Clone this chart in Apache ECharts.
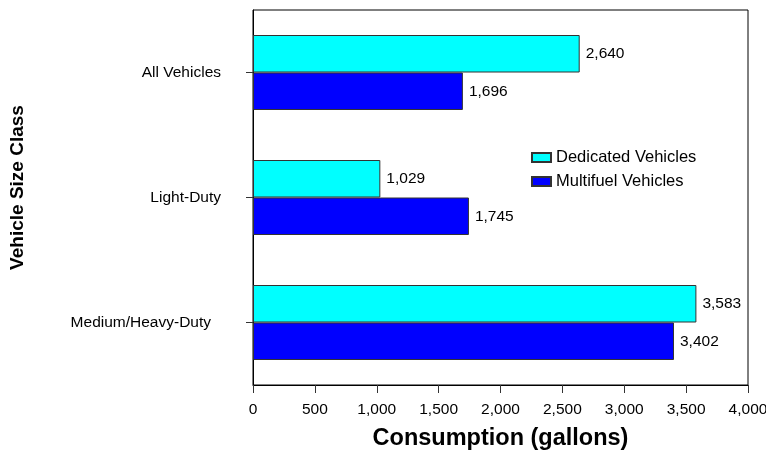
<!DOCTYPE html>
<html><head><meta charset="utf-8">
<script src="https://cdn.jsdelivr.net/npm/echarts@6/dist/echarts.min.js"></script>
<style>html,body{margin:0;padding:0;background:#fff}#c{width:766px;height:450px}</style>
</head><body><div id="c"></div>
<script>
const categories = ["All Vehicles", "Light-Duty", "Medium/Heavy-Duty"];
const dedicated = [2640, 1029, 3583];
const multifuel = [1696, 1745, 3402];
const xTicks = {min: 0, max: 4000, interval: 500};

const fmt = v => Number(v).toLocaleString('en-US');
const font = 'Arial, "Liberation Sans", sans-serif';
const chart = echarts.init(document.getElementById('c'));
const lbl = {show: true, position: 'right', distance: 6, color: '#000', fontSize: 15.5, fontFamily: font,
  formatter: p => fmt(p.value)};
chart.setOption({
  animation: false,
  grid: {left: 253, right: 18, top: 10, bottom: 65, show: true, borderColor: '#000', borderWidth: 1,
    backgroundColor: '#fff', containLabel: false, outerBoundsMode: 'none'},
  legend: {
    left: 531, top: 149, padding: 0, orient: 'vertical', itemWidth: 19, itemHeight: 9, itemGap: 7,
    icon: 'rect', textStyle: {fontSize: 16.5, fontFamily: font, color: '#000'},
    data: ['Dedicated Vehicles', 'Multifuel Vehicles']
  },
  xAxis: {
    type: 'value', min: xTicks.min, max: xTicks.max, interval: xTicks.interval,
    name: 'Consumption (gallons)', nameLocation: 'middle', nameGap: 42,
    nameTextStyle: {fontSize: 23.5, fontWeight: 'bold', fontFamily: font, color: '#000'},
    axisLine: {show: true, lineStyle: {color: '#000'}},
    axisTick: {show: true, length: 8, lineStyle: {color: '#333'}},
    axisLabel: {fontSize: 15.5, fontFamily: font, color: '#000', margin: 17, formatter: v => fmt(v)},
    splitLine: {show: false}
  },
  yAxis: {
    type: 'category', data: categories, inverse: true,
    name: 'Vehicle Size Class', nameLocation: 'middle', nameGap: 226,
    nameTextStyle: {fontSize: 19, fontWeight: 'bold', fontFamily: font, color: '#000', padding: [0, 0, 0, 20]},
    axisLine: {show: true, lineStyle: {color: '#000'}},
    axisTick: {show: true, length: 7, alignWithLabel: true, lineStyle: {color: '#333'}},
    axisLabel: {fontSize: 15.5, fontFamily: font, color: '#000', margin: 32,
      formatter: v => v === 'Medium/Heavy-Duty' ? '{m|' + v + '}' : v,
      rich: {m: {fontSize: 15.5, fontFamily: font, color: '#000', padding: [0, 10, 0, 0]}}}
  },
  series: [
    {name: 'Dedicated Vehicles', type: 'bar', data: dedicated, barGap: '0%', barCategoryGap: '40%',
     itemStyle: {color: '#00FFFF', borderColor: '#333', borderWidth: 1}, label: lbl},
    {name: 'Multifuel Vehicles', type: 'bar', data: multifuel, barGap: '0%', barCategoryGap: '40%',
     itemStyle: {color: '#0000FF', borderColor: '#333', borderWidth: 1}, label: lbl}
  ]
});
</script></body></html>
